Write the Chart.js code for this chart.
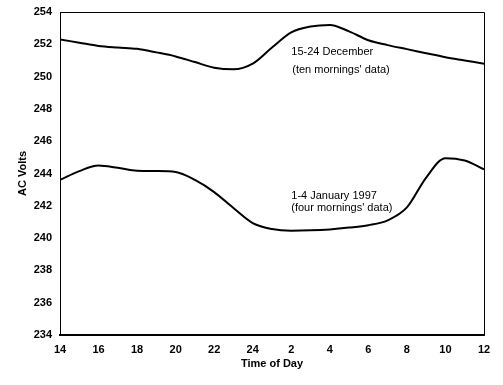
<!DOCTYPE html>
<html>
<head>
<meta charset="utf-8">
<script src="https://cdn.jsdelivr.net/npm/chart.js@4"></script>
<style>
  html, body { margin: 0; padding: 0; background: #fff; }
  #wrap { width: 503px; height: 385px; }
</style>
</head>
<body>
<div id="wrap"><canvas id="voltChart"></canvas></div>
<script>
// hours run past midnight: 25 = 1am, 36 = noon
const hours = [14, 15, 16, 17, 18, 19, 20, 21, 22, 23, 24, 25, 26, 27, 28, 29, 30, 31, 32, 33, 34, 35, 36];
const decemberVolts = [252.3, 252.1, 251.9, 251.8, 251.72, 251.5, 251.25, 250.9, 250.55, 250.45, 250.8, 251.8, 252.74, 253.1, 253.2, 252.8, 252.25, 251.95, 251.7, 251.45, 251.2, 251.0, 250.8];
const januaryVolts = [243.6, 244.15, 244.5, 244.35, 244.17, 244.15, 244.1, 243.6, 242.85, 241.86, 240.93, 240.56, 240.46, 240.48, 240.54, 240.65, 240.8, 241.1, 241.9, 243.75, 244.95, 244.8, 244.26];
const yTicks = [234, 236, 238, 240, 242, 244, 246, 248, 250, 252, 254];

const notes = [
    { x: 26, y: 251.55, text: "15-24 December" },
    { x: 26.05, y: 250.4, text: "(ten mornings' data)" },
    { x: 26, y: 242.6, text: "1-4 January 1997" },
    { x: 26, y: 241.86, text: "(four mornings' data)" }
];

const labelFont = "'Liberation Sans', Arial, sans-serif";

const frameAndNotes = {
    id: "frameAndNotes",
    afterDraw(chart) {
        const ctx = chart.ctx;
        const area = chart.chartArea;
        ctx.save();
        ctx.strokeStyle = "#000";
        ctx.lineWidth = 1;
        ctx.beginPath();
        ctx.moveTo(area.left, area.top + 0.5);
        ctx.lineTo(area.right + 0.5, area.top + 0.5);
        ctx.lineTo(area.right + 0.5, area.bottom);
        ctx.stroke();

        ctx.fillStyle = "#000";
        ctx.font = "11px " + labelFont;
        ctx.textAlign = "left";
        ctx.textBaseline = "middle";
        notes.forEach(n => {
            ctx.fillText(n.text, chart.scales.x.getPixelForValue(n.x), chart.scales.y.getPixelForValue(n.y));
        });
        ctx.restore();
    }
};

new Chart(document.getElementById("voltChart"), {
    type: "line",
    data: {
        datasets: [
            {
                label: "15-24 December",
                data: hours.map((h, i) => ({ x: h, y: decemberVolts[i] })),
                borderColor: "#000",
                borderWidth: 2,
                pointRadius: 0,
                cubicInterpolationMode: "monotone",
                fill: false
            },
            {
                label: "1-4 January 1997",
                data: hours.map((h, i) => ({ x: h, y: januaryVolts[i] })),
                borderColor: "#000",
                borderWidth: 2,
                pointRadius: 0,
                cubicInterpolationMode: "monotone",
                fill: false
            }
        ]
    },
    options: {
        responsive: true,
        maintainAspectRatio: false,
        animation: false,
        layout: { padding: { top: 12, right: 19, left: 0, bottom: 0 } },
        plugins: {
            legend: { display: false },
            tooltip: { enabled: false }
        },
        scales: {
            x: {
                type: "linear",
                min: 14,
                max: 36,
                grid: { display: false },
                border: { display: true, color: "#000", width: 2 },
                ticks: {
                    stepSize: 2,
                    padding: 0,
                    color: "#000",
                    font: { family: labelFont, size: 11, weight: "bold" },
                    callback: v => (v > 24 ? v - 24 : v)
                },
                title: {
                    display: true,
                    text: "Time of Day",
                    color: "#000",
                    font: { family: labelFont, size: 11, weight: "bold" },
                    padding: { top: 0, bottom: 14 }
                },
                afterFit: scale => { scale.height = 50; }
            },
            y: {
                min: 234,
                max: 254,
                grid: { display: false },
                border: { display: true, color: "#000", width: 1 },
                afterBuildTicks: scale => { scale.ticks = yTicks.map(v => ({ value: v })); },
                ticks: {
                    padding: 0,
                    color: "#000",
                    font: { family: labelFont, size: 11, weight: "bold" }
                },
                title: {
                    display: true,
                    text: "AC Volts",
                    color: "#000",
                    font: { family: labelFont, size: 11, weight: "bold" },
                    padding: { top: 16, bottom: 0 }
                },
                afterFit: scale => { scale.width = 60; }
            }
        }
    },
    plugins: [frameAndNotes]
});
</script>
</body>
</html>
